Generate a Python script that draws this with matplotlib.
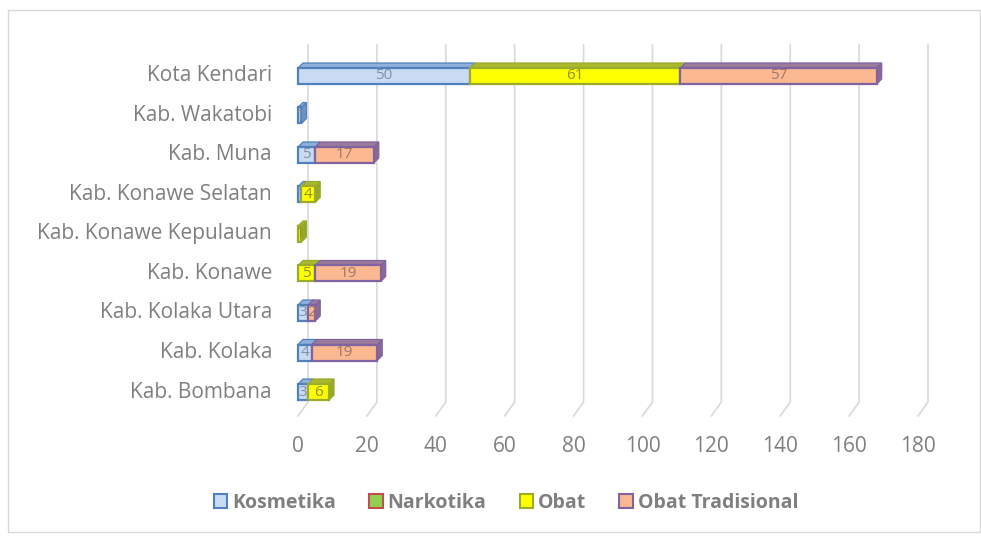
import matplotlib.pyplot as plt
from matplotlib.patches import Polygon, Rectangle, Patch

# Data (bottom to top)
regions = ['Kab. Bombana', 'Kab. Kolaka', 'Kab. Kolaka Utara', 'Kab. Konawe',
           'Kab. Konawe Kepulauan', 'Kab. Konawe Selatan', 'Kab. Muna',
           'Kab. Wakatobi', 'Kota Kendari']
kosmetika = [3, 4, 3, 0, 0, 1, 5, 1, 50]
narkotika = [0, 0, 0, 0, 0, 0, 0, 0, 0]
obat = [6, 0, 0, 5, 1, 4, 0, 0, 61]
obat_trad = [0, 19, 2, 19, 0, 0, 17, 0, 57]
series_names = ['Kosmetika', 'Narkotika', 'Obat', 'Obat Tradisional']
xticks = [0, 20, 40, 60, 80, 100, 120, 140, 160, 180]

# styles: front, top, side, edge, label colour
styles = [
    ('#c9dbf2', '#8fb0dc', '#6f93c6', '#4f81bd', '#7f8fa6'),
    ('#92d050', '#7a9a3a', '#6a8a2a', '#c0504d', '#6a6a6a'),
    ('#ffff00', '#a9b82c', '#98a826', '#9bab2b', '#8e8e2a'),
    ('#fbb891', '#9b7a9a', '#8a6a92', '#8064a2', '#a0786a'),
]

fig = plt.figure(figsize=(9.81, 5.36), dpi=100)
W, H = 981, 536
# axes in pixel layout
ax_l, ax_r, ax_t, ax_b = 280, 945, 38, 425
ax = fig.add_axes([ax_l / W, 1 - ax_b / H, (ax_r - ax_l) / W, (ax_b - ax_t) / H])
px_x = 620 / 180.0      # pixels per x unit
px_y = 39.5             # pixels per category
x0_px, y0_px = 298, 392
ax.set_xlim((ax_l - x0_px) / px_x, (ax_r - x0_px) / px_x)
ax.set_ylim((y0_px - ax_b) / px_y, (y0_px - ax_t) / px_y)
ax.axis('off')

font = 'Open Sans'
grey = '#7f7f7f'

# back wall + floor gridlines
gdx = 10 / px_x
y_top = (y0_px - 45) / px_y
y_fb = (y0_px - 402) / px_y
y_ff = (y0_px - 416) / px_y
for t in xticks:
    ax.plot([t + gdx, t + gdx, t], [y_top, y_fb, y_ff], color='#d9d9d9', lw=1.2,
            zorder=1, solid_joinstyle='miter')
    ax.text(t, (y0_px - 446) / px_y, str(t), ha='center', va='center',
            fontsize=15, color=grey, family=font)

# 3D bars
bh = 16 / px_y
ddx = 5 / px_x
ddy = 5 / px_y
series = [kosmetika, narkotika, obat, obat_trad]
for i, name in enumerate(regions):
    left = 0
    for s, vals in enumerate(series):
        v = vals[i]
        if v <= 0:
            continue
        front, top, side, edge, lc = styles[s]
        yb, yt = i - bh / 2, i + bh / 2
        r = left + v
        ax.add_patch(Polygon([[r, yb], [r + ddx, yb + ddy], [r + ddx, yt + ddy], [r, yt]],
                             closed=True, facecolor=side, edgecolor=edge, lw=0.9, zorder=3))
        ax.add_patch(Polygon([[left, yt], [left + ddx, yt + ddy], [r + ddx, yt + ddy], [r, yt]],
                             closed=True, facecolor=top, edgecolor=edge, lw=0.9, zorder=3))
        ax.add_patch(Rectangle((left, yb), v, bh, facecolor=front, edgecolor=edge,
                               lw=1.6, zorder=4))
        ax.text(left + v / 2, i, str(v), ha='center', va='center', fontsize=11,
                color=lc, family=font, zorder=5)
        left = r
    ax.text((272 - x0_px) / px_x, i, name, ha='right', va='center', fontsize=15,
            color=grey, family=font)

# legend
handles = [Patch(facecolor=styles[k][0], edgecolor=styles[k][3], lw=1.5)
           for k in range(4)]
fig.legend(handles, series_names, loc='center', bbox_to_anchor=(506 / W, 1 - 503 / H),
           ncol=4, frameon=False, handlelength=0.7, handleheight=0.7,
           handletextpad=0.25, columnspacing=1.7,
           prop={'family': font, 'weight': 'bold', 'size': 14}, labelcolor=grey)

# outer frame
fig.patches.append(Rectangle((8 / W, 1 - 532 / H), 972 / W, 522 / H, transform=fig.transFigure,
                             fill=False, edgecolor='#d9d9d9', lw=1))

fig.savefig('out.png', dpi=100)
